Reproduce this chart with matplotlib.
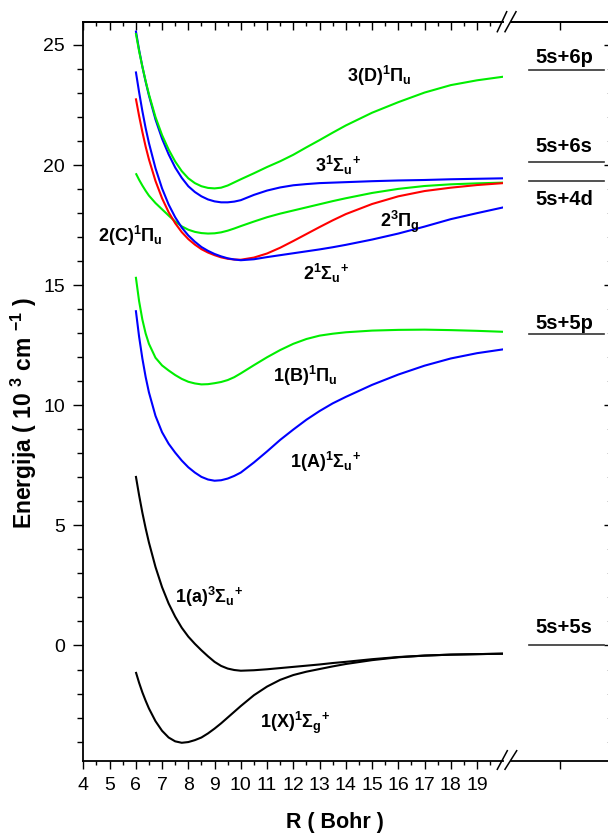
import matplotlib
matplotlib.use('Agg')
import matplotlib.pyplot as plt
from matplotlib.lines import Line2D

plt.rcParams['font.family'] = ['Liberation Sans', 'DejaVu Sans']
plt.rcParams['mathtext.fontset'] = 'custom'
plt.rcParams['mathtext.rm'] = 'Liberation Sans:bold'
plt.rcParams['mathtext.it'] = 'Liberation Sans:bold'
plt.rcParams['mathtext.bf'] = 'Liberation Sans:bold'
plt.rcParams['mathtext.sf'] = 'Liberation Sans:bold'
plt.rcParams['mathtext.default'] = 'rm'

# ---------------- data ----------------
R = [6, 6.125, 6.25, 6.375, 6.5, 6.75, 7, 7.25, 7.5, 7.75, 8, 8.25, 8.5, 8.75, 9, 9.25,
     9.5, 9.75, 10, 10.5, 11, 11.5, 12, 12.5, 13, 13.5, 14, 15, 16, 17, 18, 19, 20]

E_X1Sg = [-1.1, -1.55, -1.95, -2.3, -2.62, -3.15, -3.55, -3.83, -3.99, -4.05, -4.02,
          -3.94, -3.83, -3.66, -3.46, -3.24, -3.0, -2.76, -2.52, -2.07, -1.71, -1.43,
          -1.23, -1.09, -0.98, -0.87, -0.77, -0.61, -0.49, -0.42, -0.38, -0.36, -0.34]
E_a3Su = [7.06, 6.26, 5.53, 4.88, 4.29, 3.27, 2.43, 1.75, 1.2, 0.74, 0.37, 0.07, -0.2,
          -0.45, -0.68, -0.85, -0.96, -1.02, -1.05, -1.03, -0.99, -0.94, -0.89, -0.84,
          -0.79, -0.73, -0.68, -0.57, -0.48, -0.42, -0.38, -0.36, -0.34]
E_A1Su = [13.96, 12.86, 11.95, 11.18, 10.54, 9.56, 8.88, 8.4, 8.03, 7.7, 7.42, 7.2, 7.02,
          6.91, 6.86, 6.88, 6.95, 7.06, 7.2, 7.62, 8.08, 8.56, 8.99, 9.4, 9.76, 10.08,
          10.35, 10.85, 11.28, 11.65, 11.95, 12.17, 12.33]
E_B1Pu = [15.35, 14.34, 13.57, 12.99, 12.56, 11.98, 11.66, 11.45, 11.26, 11.1, 10.98,
          10.91, 10.87, 10.88, 10.92, 10.97, 11.05, 11.17, 11.33, 11.67, 12.0, 12.3,
          12.56, 12.76, 12.9, 12.98, 13.04, 13.11, 13.14, 13.15, 13.13, 13.1, 13.06]
E_C1Pu = [19.66, 19.39, 19.15, 18.93, 18.73, 18.42, 18.16, 17.9, 17.65, 17.45, 17.31,
          17.22, 17.17, 17.15, 17.16, 17.2, 17.27, 17.36, 17.46, 17.65, 17.83, 17.98,
          18.11, 18.24, 18.37, 18.5, 18.62, 18.84, 19.01, 19.13, 19.2, 19.24, 19.27]
E_23Pg = [22.78, 22.05, 21.38, 20.77, 20.24, 19.34, 18.62, 18.04, 17.58, 17.21, 16.92,
          16.69, 16.5, 16.36, 16.25, 16.16, 16.1, 16.07, 16.06, 16.15, 16.32, 16.56,
          16.84, 17.13, 17.42, 17.7, 17.96, 18.38, 18.7, 18.92, 19.06, 19.17, 19.25]
E_21Su = [23.9, 23.04, 22.25, 21.54, 20.92, 19.87, 19.03, 18.36, 17.83, 17.4, 17.07,
          16.81, 16.59, 16.43, 16.3, 16.2, 16.12, 16.07, 16.04, 16.08, 16.17, 16.25,
          16.33, 16.41, 16.49, 16.58, 16.68, 16.9, 17.15, 17.44, 17.75, 18.0, 18.24]
E_31Su = [25.6, 24.8, 24.1, 23.47, 22.9, 21.9, 21.1, 20.45, 19.9, 19.47, 19.12, 18.88,
          18.7, 18.57, 18.49, 18.45, 18.45, 18.48, 18.54, 18.76, 18.94, 19.07, 19.16,
          19.21, 19.25, 19.27, 19.29, 19.33, 19.36, 19.38, 19.41, 19.43, 19.45]
E_D1Pu = [25.5, 24.75, 24.1, 23.5, 22.95, 22.0, 21.25, 20.65, 20.15, 19.75, 19.45, 19.25,
          19.12, 19.05, 19.03, 19.06, 19.15, 19.28, 19.41, 19.66, 19.92, 20.16, 20.43,
          20.74, 21.04, 21.35, 21.65, 22.18, 22.62, 23.02, 23.33, 23.53, 23.68]

asym_names = ['5s+6p', '5s+6s', '5s+4d', '5s+5p', '5s+5s']
asym_E = [23.95, 20.14, 19.35, 12.95, 0.0]

x_ticks = list(range(4, 20))
y_ticks = [0, 5, 10, 15, 20, 25]

# ---------------- figure ----------------
W, H = 608, 834
fig = plt.figure(figsize=(W / 100, H / 100), dpi=100)


def fx(px):
    return px / W


def fy(py):
    return 1 - py / H


ax_l, ax_r, ax_t, ax_b = 83.3, 503.3, 21.7, 760.7
ax1 = fig.add_axes([fx(ax_l), fy(ax_b), (ax_r - ax_l) / W, (ax_b - ax_t) / H])
ax2 = fig.add_axes([fx(511), fy(ax_b), (609 - 511) / W, (ax_b - ax_t) / H])

ylim = (-4.796, 25.97)
lw = 1.5
GREEN = '#00ee00'
BLUE = '#0000ff'
RED = '#ff0000'
curves = [
    (E_X1Sg, 'black'), (E_a3Su, 'black'), (E_A1Su, BLUE), (E_B1Pu, GREEN),
    (E_C1Pu, GREEN), (E_23Pg, RED), (E_21Su, BLUE), (E_31Su, BLUE), (E_D1Pu, GREEN),
]
for E, c in curves:
    ax1.plot(R, E, color=c, lw=lw, solid_capstyle='butt', solid_joinstyle='round')

ax1.set_xlim(4, 20)
ax1.set_ylim(*ylim)
ax2.set_xlim(0, 1)
ax2.set_ylim(*ylim)

for ax in (ax1, ax2):
    for s in ax.spines.values():
        s.set_linewidth(1.3)
ax1.spines['right'].set_visible(False)
ax2.spines['left'].set_visible(False)

# ax1 ticks
ax1.set_xticks(x_ticks)
ax1.set_xticks([t + 0.5 for t in x_ticks], minor=True)
ax1.set_yticks(y_ticks)
ax1.set_yticks(list(range(-4, 26)), minor=True)
ax1.tick_params(axis='x', which='major', direction='out', length=5.5, width=1.0,
                labelsize=14, pad=6, top=False)
ax1.tick_params(axis='x', which='minor', direction='out', length=3, width=1.0, top=False)
ax1.tick_params(axis='y', which='major', direction='out', length=7.5, width=1.0,
                labelsize=14, pad=5.5, right=False)
ax1.tick_params(axis='y', which='minor', direction='out', length=4.3, width=1.0,
                right=False)

sec1 = ax1.secondary_xaxis('top')
sec1.set_xticks(x_ticks)
sec1.set_xticks([t + 0.5 for t in x_ticks], minor=True)
sec1.tick_params(which='major', direction='in', length=5.5, width=1.0, labeltop=False)
sec1.tick_params(which='minor', direction='in', length=3, width=1.0)
sec1.spines['top'].set_linewidth(1.3)

# ax2 ticks
ax2.set_xticks([0.5])
ax2.tick_params(axis='x', which='major', direction='out', length=5.5, width=1.0,
                labelbottom=False, top=False)
ax2.yaxis.tick_right()
ax2.set_yticks(y_ticks)
ax2.set_yticks(list(range(-4, 26)), minor=True)
ax2.tick_params(axis='y', which='major', direction='in', length=3.5, width=1.0,
                labelright=False, left=False)
ax2.tick_params(axis='y', which='minor', direction='in', length=1.5, width=0.6,
                color='#999999', left=False)
sec2 = ax2.secondary_xaxis('top')
sec2.set_xticks([0.5])
sec2.tick_params(which='major', direction='in', length=5.5, width=1.0, labeltop=False)
sec2.spines['top'].set_linewidth(1.3)

# asymptote lines
for name, e in zip(asym_names, asym_E):
    ax2.plot([0.184, 0.949], [e, e], color='#333333', lw=1.2)
lab_pos = {'5s+6p': 24.25, '5s+6s': 20.55, '5s+4d': 18.34, '5s+5p': 13.18, '5s+5s': 0.52}
for name in asym_names:
    ax2.text(0.245, lab_pos[name], name, fontsize=14.5, fontweight='bold',
             ha='left', va='baseline')

# curve labels
fs = 13
labels = [
    (14.04, 23.46, r'$3(D)^{1}\Pi_{u}$'),
    (12.83, 19.71, r'$3^{1}\Sigma_{u}{}^{+}$'),
    (15.30, 17.42, r'$2^{3}\Pi_{g}$'),
    (12.37, 15.21, r'$2^{1}\Sigma_{u}{}^{+}$'),
    (4.56, 16.80, r'$2(C)^{1}\Pi_{u}$'),
    (11.23, 10.97, r'$1(B)^{1}\Pi_{u}$'),
    (11.87, 7.39, r'$1(A)^{1}\Sigma_{u}{}^{+}$'),
    (7.49, 1.77, r'$1(a)^{3}\Sigma_{u}{}^{+}$'),
    (10.73, -3.45, r'$1(X)^{1}\Sigma_{g}{}^{+}$'),
]
for x, y, t in labels:
    ax1.text(x, y, t, fontsize=fs, ha='left', va='baseline')

# axis titles
fig.text(fx(335), fy(828), 'R ( Bohr )', fontsize=15.5, fontweight='bold',
         ha='center', va='baseline')
fig.text(fx(24), fy(413), r'Energija ( 10 $^{3}$ cm $^{-1}$ )', fontsize=16.5,
         fontweight='bold', rotation=90, ha='center', va='center')

# break marks
for (x0, y0, x1, y1) in [(497.3, 769.3, 507.3, 750.7), (505, 769.3, 516.7, 750.7),
                         (497.3, 31.7, 506.7, 11.7), (505, 31.7, 516, 11.7)]:
    fig.add_artist(Line2D([fx(x0), fx(x1)], [fy(y0), fy(y1)], color='black', lw=1.1,
                          transform=fig.transFigure))

fig.savefig('out.png', dpi=100)
